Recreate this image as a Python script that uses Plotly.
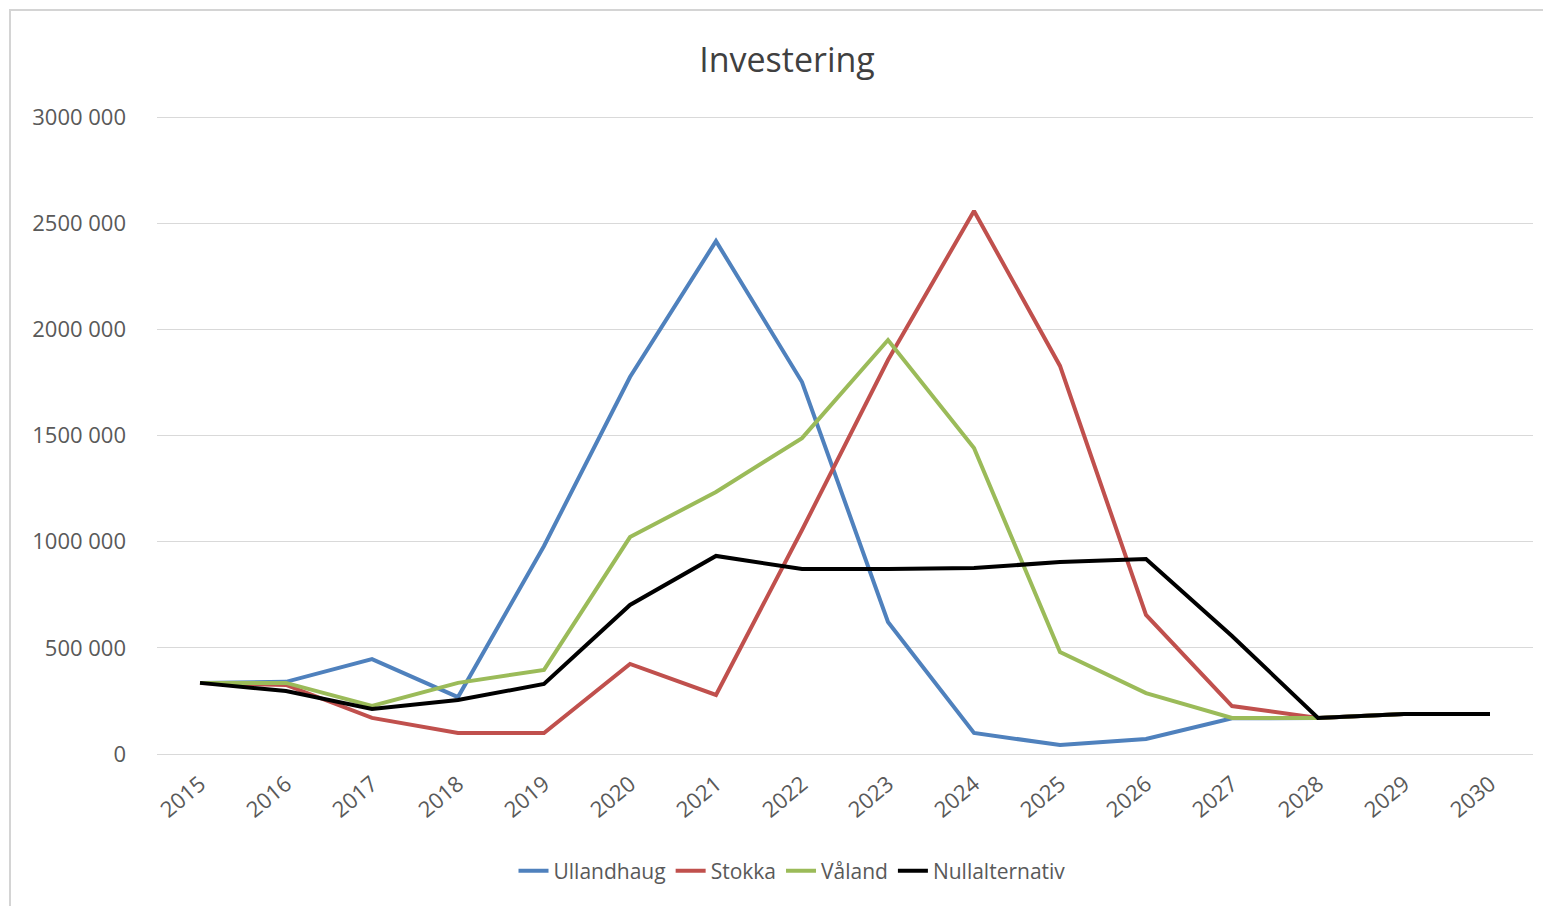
import plotly.graph_objects as go

years = [str(y) for y in range(2015, 2031)]
ullandhaug = [335000, 340000, 447000, 268000, 980000, 1776000, 2416000, 1752000, 622000, 99000, 42000, 71000, 168000, 170000, 188000, 188000]
stokka = [335000, 325000, 170000, 99000, 99000, 424000, 278000, 1055000, 1856000, 2558000, 1828000, 655000, 226000, 170000, 188000, 188000]
valand = [335000, 335000, 226000, 335000, 396000, 1022000, 1234000, 1488000, 1950000, 1441000, 480000, 287000, 170000, 170000, 188000, 188000]
null_alt = [335000, 297000, 212000, 254000, 330000, 702000, 933000, 871000, 871000, 876000, 904000, 918000, 556000, 170000, 188000, 188000]

y_tickvals = [0, 500000, 1000000, 1500000, 2000000, 2500000, 3000000]
y_ticktext = ["0", "500 000", "1000 000", "1500 000", "2000 000", "2500 000", "3000 000"]

series = [
    ("Ullandhaug", ullandhaug, "#4F81BD"),
    ("Stokka", stokka, "#C0504D"),
    ("Våland", valand, "#9BBB59"),
    ("Nullalternativ", null_alt, "#000000"),
]

fig = go.Figure()
for name, vals, col in series:
    fig.add_trace(go.Scatter(x=years, y=vals, name=name, mode="lines",
                             line=dict(color=col, width=4)))

font_family = "Open Sans, Liberation Sans, sans-serif"
W, H = 1543, 898  # page body has 8px margin
PLOT_H = 639
fig.update_layout(
    width=W, height=H,
    paper_bgcolor="white", plot_bgcolor="white",
    margin=dict(l=149, r=18, t=107, b=152),
    title=dict(text="Investering", x=(787 - 8) / W, xanchor="center",
               y=1 - (60 - 8) / H, yanchor="middle",
               font=dict(family=font_family, size=34, color="#404040")),
    font=dict(family=font_family, color="#595959", size=22),
    showlegend=True,
    legend=dict(orientation="h", x=(792 - 157) / 1376, xanchor="center",
                y=(754 - 871) / PLOT_H, yanchor="middle",
                font=dict(family=font_family, size=21, color="#595959"),
                tracegroupgap=0),
    xaxis=dict(type="category", range=[-0.5, 15.5], showgrid=False, zeroline=False,
               showline=False, tickangle=-40, ticks="", ticklabelstandoff=12,
               tickfont=dict(size=22, color="#595959")),
    yaxis=dict(range=[0, 3010000], tickvals=y_tickvals, ticktext=y_ticktext,
               showgrid=True, gridcolor="#D9D9D9", gridwidth=1, zeroline=True,
               zerolinecolor="#D9D9D9", zerolinewidth=1, showline=False, ticks="",
               ticklabelstandoff=30, tickfont=dict(size=22, color="#595959")),
)

# outer chart border
fig.add_shape(type="rect", xref="paper", yref="paper",
              x0=(10 - 157) / 1376, x1=1.05, y0=-0.3, y1=(754 - 10) / PLOT_H,
              line=dict(color="#D4D4D4", width=2), fillcolor="rgba(0,0,0,0)", layer="below")

fig.write_html("out.html")
